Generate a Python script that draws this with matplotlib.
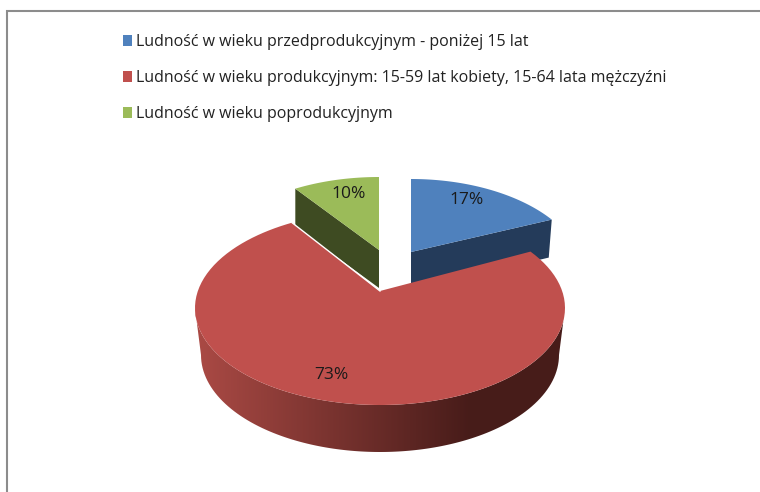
import numpy as np
import matplotlib
matplotlib.use("Agg")
from matplotlib import pyplot as plt
from matplotlib.patches import Polygon, Rectangle

labels = ["Ludność w wieku przedprodukcyjnym - poniżej 15 lat",
          "Ludność w wieku produkcyjnym: 15-59 lat kobiety, 15-64 lata mężczyźni",
          "Ludność w wieku poprodukcyjnym"]
shares = [17, 73, 10]
top_colors = ["#4F81BD", "#C0504D", "#9BBB59"]
wall_colors = ["#243B5A", "#5A2422", "#3E4B22"]

# each exploded slice has its own ellipse, sizes are in picture pixels
centers = [(411, 276), (380, 308), (379, 274)]
radii = [173, 185, 176]
apex_up = [24, 17, 24]
wall_lean = [-3, 0, 0]
ry = 97
depth = 47


def warp(theta):
    # fake 3d perspective, the front of the pie looks wider than the back
    return theta - np.radians(8) * np.sin(2 * theta)


def arc(i, a, b, n=120):
    t = warp(np.linspace(a, b, n))
    return np.column_stack((centers[i][0] + radii[i] * np.sin(t),
                            centers[i][1] - ry * np.cos(t)))


fig = plt.figure(figsize=(7.6, 4.92), dpi=100)
ax = fig.add_axes([0, 0, 1, 1])
ax.set_xlim(0, 760)
ax.set_ylim(492, 0)
ax.axis("off")

ends = 2 * np.pi * np.cumsum(shares) / np.sum(shares)
starts = np.concatenate(([0], ends[:-1]))

# blue and green slices sit behind the red one
for i in [0, 2]:
    points = arc(i, starts[i], ends[i])
    apex = np.array([centers[i][0], centers[i][1] - apex_up[i]])
    edge = points[-1] if i == 0 else points[0]
    wall = np.array([apex, edge, edge + [wall_lean[i], 38], apex + [0, 38]])
    ax.add_patch(Polygon(wall, color=wall_colors[i], lw=0))
    ax.add_patch(Polygon(np.vstack((apex, points)), color=top_colors[i], lw=0))

# side of the red slice, shaded from left to right
top = arc(1, np.pi / 2, 3 * np.pi / 2)
t = warp(np.linspace(3 * np.pi / 2, np.pi / 2, 120))
bottom = np.column_stack((centers[1][0] + 179 * np.sin(t),
                          centers[1][1] + depth - ry * np.cos(t)))
side = Polygon(np.vstack((top, bottom)), fc="none", lw=0)
ax.add_patch(side)
shade = np.interp(np.linspace(195, 564, 256), [195, 470, 564], [0, 1, 1])
light = np.array([0.67, 0.29, 0.27])
dark = np.array([0.28, 0.11, 0.10])
rgb = light[None, None, :] * (1 - shade[None, :, None]) + dark[None, None, :] * shade[None, :, None]
img = ax.imshow(rgb, extent=(195, 564, 460, 300), aspect="auto", zorder=2)
img.set_clip_path(side)
ax.set_xlim(0, 760)
ax.set_ylim(492, 0)

# top of the red slice, white gap only along the cut next to the green slice
points = arc(1, starts[1], ends[1])
apex = np.array([centers[1][0], centers[1][1] - apex_up[1]])
ax.add_patch(Polygon(np.vstack((apex, points)), fc=top_colors[1], lw=0, zorder=3))
ax.plot([points[-1][0], apex[0]], [points[-1][1], apex[1]], color="white", lw=1.0, zorder=3)

label_xy = [(467, 200), (331, 375), (349, 194)]
for share, xy in zip(shares, label_xy):
    ax.text(xy[0], xy[1], f"{share}%", ha="center", va="center", fontsize=12.5,
            family="Open Sans", color="#1a1a1a", zorder=4)

legend_y = [40, 76, 112]
for label, color, y in zip(labels, top_colors, legend_y):
    ax.add_patch(Rectangle((122.5, y - 5.5), 9.5, 11, color=color, lw=0))
    ax.text(136, y + 6, label, ha="left", va="baseline", fontsize=11.5,
            family="Open Sans", color="#222222")

# frame of the pasted chart, open on the right and at the bottom
ax.plot([7, 7, 760], [492, 11, 11], color="#8c8c8c", lw=1.5, solid_joinstyle="miter")

fig.savefig("out.png", dpi=100)
